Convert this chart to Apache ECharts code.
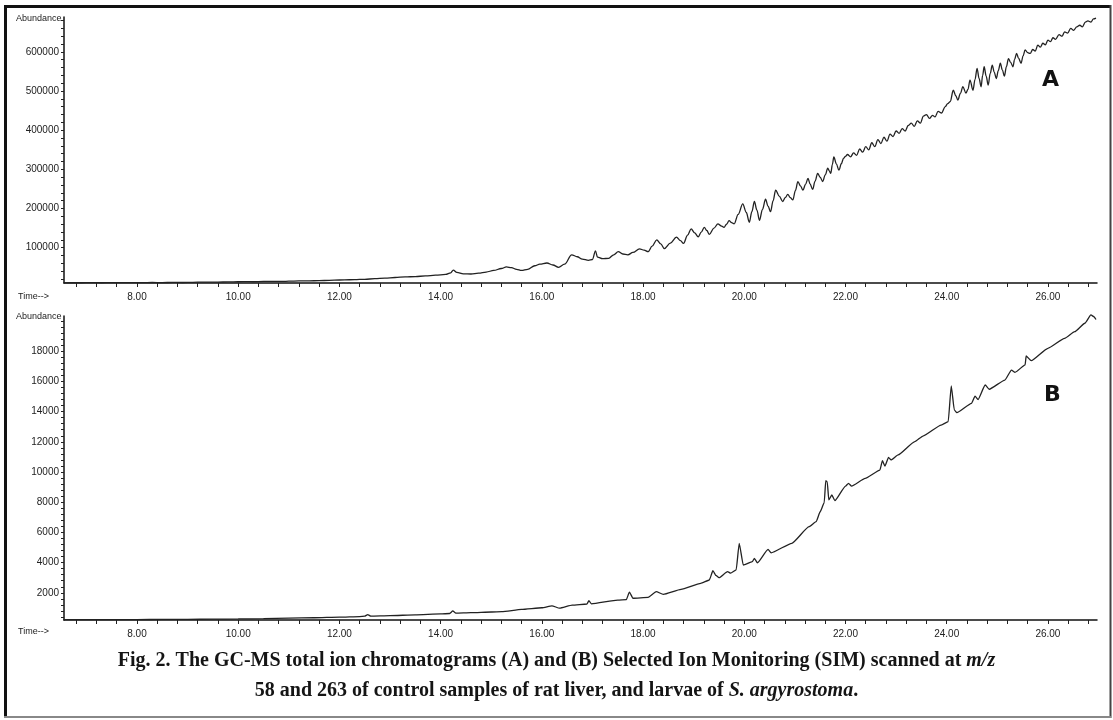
<!DOCTYPE html>
<html>
<head>
<meta charset="utf-8">
<title>GC-MS chromatograms</title>
<script src="https://cdn.jsdelivr.net/npm/echarts@6/dist/echarts.min.js"></script>
<style>
  html, body { margin: 0; padding: 0; background: #fff; }
  #chart { width: 1113px; height: 720px; }
</style>
</head>
<body>
<div id="chart"></div>
<script>
// time axis labels (min) and abundance labels
const timeLabels = [8, 10, 12, 14, 16, 18, 20, 22, 24, 26];
const abundLabelsA = [100000, 200000, 300000, 400000, 500000, 600000];
const abundLabelsB = [2000, 4000, 6000, 8000, 10000, 12000, 14000, 16000, 18000];

// trace A: total ion chromatogram (abundance in thousands)
const timeA = [6.56, 6.7, 6.9, 7.1, 7.3, 7.5, 7.7, 7.9, 8.1, 8.3, 8.5, 8.7, 8.9, 9.1, 9.3, 9.5, 9.7, 9.9,
  10.1, 10.3, 10.5, 10.7, 10.9, 11.1, 11.3, 11.5, 11.7, 11.9, 12.1, 12.3, 12.5, 12.7, 12.9, 13.1, 13.3,
  13.5, 13.7, 13.9, 14.1, 14.2, 14.25, 14.32, 14.45, 14.6, 14.75, 14.9, 15.05, 15.2, 15.3, 15.4, 15.5,
  15.6, 15.72, 15.86, 15.96, 16.1, 16.22, 16.33, 16.45, 16.59, 16.7, 16.8, 16.92, 17.0, 17.06, 17.1,
  17.2, 17.32, 17.42, 17.51, 17.6, 17.7, 17.8, 17.93, 18.02, 18.1, 18.18, 18.27, 18.35, 18.42, 18.54,
  18.66, 18.74, 18.8, 18.88, 18.95, 19.02, 19.09, 19.15, 19.21, 19.26, 19.31, 19.4, 19.48, 19.54, 19.6,
  19.65, 19.7, 19.75, 19.8, 19.88, 19.97, 20.04, 20.1, 20.15, 20.2, 20.25, 20.3, 20.36, 20.42, 20.47,
  20.52, 20.57, 20.62, 20.69, 20.76, 20.81, 20.86, 20.91, 20.96, 21.01, 21.06, 21.11, 21.16, 21.21,
  21.26, 21.3, 21.35, 21.4, 21.45, 21.5, 21.55, 21.6, 21.65, 21.68, 21.71, 21.74, 21.77, 21.82, 21.87,
  21.92, 21.96, 22.0, 22.04, 22.1, 22.16, 22.22, 22.28, 22.34, 22.4, 22.46, 22.52, 22.58, 22.64, 22.7,
  22.76, 22.82, 22.88, 22.94, 23.0, 23.06, 23.12, 23.18, 23.24, 23.3, 23.36, 23.42, 23.48, 23.54, 23.6,
  23.66, 23.72, 23.77, 23.83, 23.9, 23.97, 24.02, 24.07, 24.13, 24.18, 24.22, 24.27, 24.32, 24.38,
  24.42, 24.46, 24.52, 24.56, 24.6, 24.64, 24.68, 24.71, 24.74, 24.78, 24.82, 24.86, 24.9, 24.94,
  24.98, 25.02, 25.06, 25.1, 25.14, 25.18, 25.22, 25.26, 25.31, 25.34, 25.38, 25.42, 25.47, 25.51,
  25.55, 25.6, 25.65, 25.7, 25.75, 25.8, 25.85, 25.9, 25.95, 26.0, 26.05, 26.1, 26.15, 26.22, 26.28,
  26.33, 26.39, 26.45, 26.51, 26.57, 26.63, 26.68, 26.74, 26.79, 26.85, 26.9, 26.95];
const abundA = [10.5, 10.8, 10.6, 10.9, 10.7, 11.0, 10.8, 11.2, 11.0, 11.3, 11.1, 11.5, 11.3, 11.8, 12.2, 12.0, 12.6, 13.0,
  13.4, 13.2, 14.0, 14.3, 14.1, 15.0, 15.4, 15.8, 16.4, 17.2, 18.0, 18.6, 19.5, 21.0, 22.5, 24.0, 25.5,
  26.5, 28.0, 30.0, 32.0, 36.0, 43.0, 37.0, 33.5, 33.0, 35.0, 38.0, 42.0, 47.0, 51.0, 49.0, 45.0,
  42.0, 45.0, 54.0, 58.0, 61.0, 56.0, 50.0, 58.0, 82.0, 77.0, 71.0, 68.0, 70.0, 92.0, 76.0,
  72.0, 73.0, 82.0, 90.0, 84.0, 82.0, 88.0, 97.0, 94.0, 90.0, 104.0, 120.0, 110.0, 98.0, 112.0,
  127.0, 118.0, 111.0, 132.0, 148.0, 138.0, 128.0, 140.0, 152.0, 144.0, 134.0, 150.0, 161.0, 156.0, 152.0,
  160.0, 169.0, 164.0, 161.0, 185.0, 212.0, 190.0, 165.0, 192.0, 218.0, 196.0, 170.0, 198.0, 224.0, 206.0,
  192.0, 220.0, 247.0, 232.0, 218.0, 228.0, 236.0, 228.0, 222.0, 246.0, 269.0, 258.0, 247.0, 262.0,
  277.0, 263.0, 249.0, 270.0, 290.0, 280.0, 269.0, 286.0, 303.0, 296.0, 290.0, 312.0, 332.0, 314.0, 298.0,
  315.0, 328.0, 333.0, 338.0, 332.0, 342.0, 336.0, 352.0, 344.0, 358.0, 350.0, 368.0, 358.0, 376.0, 366.0,
  382.0, 372.0, 390.0, 384.0, 398.0, 392.0, 404.0, 398.0, 412.0, 418.0, 410.0, 424.0, 418.0, 436.0, 440.0,
  430.0, 438.0, 434.0, 448.0, 444.0, 460.0, 468.0, 473.0, 502.0, 488.0, 477.0, 494.0, 511.0, 495.0,
  504.0, 528.0, 502.0, 530.0, 558.0, 532.0, 511.0, 540.0, 562.0, 538.0, 515.0, 545.0, 566.0, 548.0,
  532.0, 552.0, 571.0, 554.0, 538.0, 562.0, 583.0, 574.0, 562.0, 580.0, 596.0, 584.0, 571.0, 590.0,
  605.0, 598.0, 596.0, 606.0, 602.0, 617.0, 612.0, 622.0, 618.0, 630.0, 626.0, 636.0, 632.0, 644.0, 640.0,
  651.0, 648.0, 660.0, 655.0, 664.0, 668.0, 664.0, 676.0, 679.0, 676.0, 684.0, 686.0];

// trace B: selected ion monitoring
const timeB = [6.56, 7.0, 7.5, 8.0, 8.5, 9.0, 9.5, 10.0, 10.5, 11.0, 11.5, 12.0, 12.4, 12.5, 12.56, 12.62,
  13.0, 13.5, 14.0, 14.18, 14.24, 14.3, 14.6, 15.0, 15.21, 15.6, 16.0, 16.2, 16.35, 16.6, 16.89, 16.93,
  16.98, 17.5, 17.67, 17.73, 17.8, 18.1, 18.26, 18.4, 18.75, 19.14, 19.31, 19.38, 19.44, 19.5, 19.67,
  19.73, 19.84, 19.9, 19.98, 20.16, 20.2, 20.26, 20.47, 20.53, 20.94, 21.28, 21.42, 21.5, 21.58, 21.61,
  21.64, 21.67, 21.73, 21.79, 22.0, 22.06, 22.12, 22.39, 22.68, 22.73, 22.78, 22.85, 22.9, 23.04, 23.37,
  23.53, 23.89, 24.03, 24.09, 24.15, 24.2, 24.49, 24.56, 24.62, 24.76, 24.84, 25.15, 25.28, 25.35,
  25.55, 25.57, 25.67, 26.0, 26.33, 26.53, 26.73, 26.85, 26.91, 26.95];
const abundB = [220, 220, 225, 230, 235, 245, 255, 270, 290, 320, 350, 390, 430, 450, 560, 460,
  490, 540, 600, 630, 800, 660, 690, 730, 750, 900, 1010, 1140, 980, 1180, 1260, 1480,
  1270, 1520, 1550, 2050, 1640, 1700, 2080, 1900, 2230, 2630, 2850, 3460, 3150, 3000, 3400,
  3300, 3520, 5280, 3840, 4060, 4280, 3990, 4880, 4650, 5280, 6380, 6710, 7370, 7970, 9420,
  9350, 8150, 8480, 8100, 9070, 9250, 9070, 9580, 10130, 10750, 10390, 10970, 10800, 11130, 12010,
  12380, 13110, 13330, 15700, 14110, 13930, 14550, 15030, 14800, 15760, 15480, 16090, 16750, 16600,
  17090, 17680, 17370, 18190, 18850, 19290, 19850, 20400, 20280, 20100];

const axisFont = '"Liberation Sans", sans-serif';
const serif = '"Liberation Serif", "DejaVu Serif", serif';
const capSize = 20;

function ticksFrom(start, end, step) {
  let out = [];
  for (let v = start; v <= end + 1e-9; v += step) out.push(+v.toFixed(4));
  return out;
}

function xAxisFor(gridIndex) {
  return {
    type: "value",
    gridIndex: gridIndex,
    min: 6.558,
    max: 26.97,
    axisLine: { onZero: false, lineStyle: { color: "#111", width: 1.5 } },
    axisTick: { length: 4, lineStyle: { color: "#222" }, customValues: ticksFrom(6.8, 26.8, 0.4) },
    axisLabel: {
      customValues: timeLabels,
      formatter: v => v.toFixed(2),
      fontFamily: axisFont,
      fontSize: 10,
      color: "#222",
      margin: 9
    },
    splitLine: { show: false }
  };
}

function yAxisFor(gridIndex, min, max, labels, tickStep) {
  return {
    type: "value",
    gridIndex: gridIndex,
    min: min,
    max: max,
    axisLine: { show: true, onZero: false, lineStyle: { color: "#111", width: 1.5 } },
    axisTick: { show: true, length: 3, lineStyle: { color: "#222" }, customValues: ticksFrom(tickStep, max, tickStep) },
    axisLabel: {
      customValues: labels,
      formatter: v => String(v),
      fontFamily: axisFont,
      fontSize: 10,
      color: "#222",
      margin: 5
    },
    splitLine: { show: false }
  };
}

let chart = echarts.init(document.getElementById("chart"), null, { renderer: "canvas" });

let capStyle = {
  fontFamily: serif, fontWeight: "bold", fontSize: capSize, color: "#151515",
  rich: { i: { fontFamily: serif, fontWeight: "bold", fontStyle: "italic", fontSize: capSize, color: "#151515" } }
};

let option = {
  backgroundColor: "#fff",
  animation: false,
  title: [
    {
      text: "Fig. 2. The GC-MS total ion chromatograms (A) and (B) Selected Ion Monitoring (SIM) scanned at {i|m/z}",
      left: "center",
      top: 646,
      textStyle: capStyle
    },
    {
      text: "58 and 263 of control samples of rat liver, and larvae of {i|S. argyrostoma}.",
      left: "center",
      top: 676,
      textStyle: capStyle
    }
  ],
  grid: [
    { left: 64, top: 17, width: 1033, height: 266 },
    { left: 64, top: 316, width: 1033, height: 304 }
  ],
  xAxis: [xAxisFor(0), xAxisFor(1)],
  yAxis: [
    yAxisFor(0, 10000, 689000, abundLabelsA, 20000),
    yAxisFor(1, 200, 20330, abundLabelsB, 400)
  ],
  series: [
    {
      type: "line",
      xAxisIndex: 0,
      yAxisIndex: 0,
      data: timeA.map((t, i) => [t, abundA[i] * 1000]),
      showSymbol: false,
      clip: false,
      smooth: 0.35,
      smoothMonotone: "x",
      lineStyle: { color: "#222", width: 1.3 }
    },
    {
      type: "line",
      xAxisIndex: 1,
      yAxisIndex: 1,
      data: timeB.map((t, i) => [t, abundB[i]]),
      showSymbol: false,
      clip: false,
      smooth: 0.15,
      smoothMonotone: "x",
      lineStyle: { color: "#222", width: 1.3 }
    }
  ],
  graphic: [
    // frame
    { type: "line", shape: { x1: 4, y1: 6.5, x2: 1111, y2: 6.5 }, style: { stroke: "#111", lineWidth: 3 } },
    { type: "line", shape: { x1: 5.5, y1: 5, x2: 5.5, y2: 718 }, style: { stroke: "#111", lineWidth: 3 } },
    { type: "line", shape: { x1: 1110.5, y1: 5, x2: 1110.5, y2: 718 }, style: { stroke: "#444", lineWidth: 2 } },
    { type: "line", shape: { x1: 4, y1: 717, x2: 1111, y2: 717 }, style: { stroke: "#888", lineWidth: 2 } },
    // axis captions
    { type: "text", left: 16, top: 14, style: { text: "Abundance", fontFamily: axisFont, fontSize: 9, fill: "#222" } },
    { type: "text", left: 18, top: 292, style: { text: "Time-->", fontFamily: axisFont, fontSize: 9, fill: "#222" } },
    { type: "text", left: 16, top: 312, style: { text: "Abundance", fontFamily: axisFont, fontSize: 9, fill: "#222" } },
    { type: "text", left: 18, top: 627, style: { text: "Time-->", fontFamily: axisFont, fontSize: 9, fill: "#222" } },
    // panel letters
    { type: "text", left: 1042, top: 69, style: { text: "A", fontFamily: "DejaVu Sans", fontWeight: "bold", fontSize: 22, fill: "#111" } },
    { type: "text", left: 1044, top: 384, style: { text: "B", fontFamily: "DejaVu Sans", fontWeight: "bold", fontSize: 22, fill: "#111" } }
  ]
};

chart.setOption(option);
</script>
</body>
</html>
